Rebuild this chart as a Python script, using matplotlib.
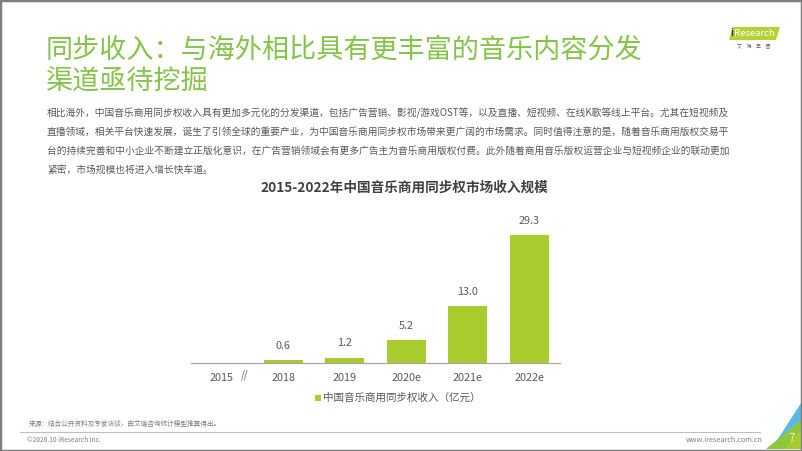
import matplotlib
matplotlib.use("Agg")
import matplotlib.pyplot as plt
from matplotlib.patches import Polygon, Rectangle
from matplotlib.lines import Line2D

plt.rcParams['font.family'] = ['Noto Sans CJK SC', 'DejaVu Sans']

categories = ["2015", "2018", "2019", "2020e", "2021e", "2022e"]
values = [0.0, 0.6, 1.2, 5.2, 13.0, 29.3]
value_labels = ["", "0.6", "1.2", "5.2", "13.0", "29.3"]
legend_label = "中国音乐商用同步权收入（亿元）"
chart_title = "2015-2022年中国音乐商用同步权市场收入规模"
slide_title = ["同步收入：与海外相比具有更丰富的音乐内容分发", "渠道亟待挖掘"]
body_lines = [
    "相比海外，中国音乐商用同步权收入具有更加多元化的分发渠道，包括广告营销、影视/游戏OST等，以及直播、短视频、在线K歌等线上平台。尤其在短视频及",
    "直播领域，相关平台快速发展，诞生了引领全球的重要产业，为中国音乐商用同步权市场带来更广阔的市场需求。同时值得注意的是，随着音乐商用版权交易平",
    "台的持续完善和中小企业不断建立正版化意识，在广告营销领域会有更多广告主为音乐商用版权付费。此外随着商用音乐版权运营企业与短视频企业的联动更加",
    "紧密，市场规模也将进入增长快车道。",
]
source_text = "来源：结合公开资料及专家访谈，由艾瑞咨询统计模型推算得出。"
copyright_text = "©2020.10 iResearch Inc."
site_text = "www.iresearch.com.cn"
page_no = "7"

W, H = 802, 451
fig = plt.figure(figsize=(W / 100, H / 100), dpi=100)
fig.patch.set_facecolor("white")

def fx(x):
    return x / W

def fy(y):
    return 1 - y / H

green_title = "#84c448"
bar_color = "#a8cc2e"
gray = "#595959"

# slide frame
fig.add_artist(Rectangle((0, 0), 1, 1, transform=fig.transFigure, fill=False,
                         edgecolor="#7f7f7f", linewidth=2.5, zorder=10))

# title
fig.text(fx(46), fy(50), slide_title[0], fontsize=19.5, color=green_title,
         va="center", ha="left", fontweight="light")
fig.text(fx(46), fy(82), slide_title[1], fontsize=19.5, color=green_title,
         va="center", ha="left", fontweight="light")

# logo
fig.add_artist(Polygon([[fx(729), fy(40)], [fx(776), fy(40)], [fx(780), fy(27)], [fx(733), fy(27)]],
                       closed=True, transform=fig.transFigure, facecolor="#b3d334", edgecolor="none"))
fig.text(fx(730), fy(33.5), "i", fontsize=7, color="#333333", va="center", ha="left",
         fontweight="bold")
fig.text(fx(734), fy(33.5), "Research", fontsize=6.8, color="white", va="center", ha="left")
fig.text(fx(754), fy(47), "艾    瑞    集    团", fontsize=3.6, color="#666666", va="center", ha="center")

# body
for i, line in enumerate(body_lines):
    fig.text(fx(47), fy(113 + 19 * i), line, fontsize=7.0, color=gray, va="center", ha="left")

# chart title
fig.text(fx(404), fy(188), chart_title, fontsize=9.8, color="#404040", va="center",
         ha="center", fontweight="bold")

# axes
ax = fig.add_axes([fx(191), fy(363), fx(560) - fx(191), (363 - 215) / H])
x = list(range(len(categories)))
bars = ax.bar(x, values, width=0.63, color=bar_color, zorder=2)
ax.set_xlim(-0.5, len(categories) - 0.5)
ax.set_ylim(0, 34)
for s in ["top", "right", "left"]:
    ax.spines[s].set_visible(False)
ax.spines["bottom"].set_color("#a6a6a6")
ax.spines["bottom"].set_linewidth(0.9)
ax.set_yticks([])
ax.set_xticks(x)
ax.set_xticklabels(categories, fontsize=7.8, color=gray)
ax.tick_params(axis="x", length=0, pad=7)
ax.patch.set_alpha(0)
for xi, v, lab in zip(x, values, value_labels):
    if lab:
        ax.annotate(lab, (xi, v), xytext=(0, 7), textcoords="offset points",
                    ha="center", va="bottom", fontsize=7.8, color=gray)
# break mark
ax.text(0.38, -0.08, "//", transform=ax.get_xaxis_transform(), ha="center", va="center",
        fontsize=7, color=gray, style="italic")

# legend
fig.add_artist(Rectangle((fx(315), fy(401)), fx(321) - fx(315), (6) / H,
                         transform=fig.transFigure, facecolor=bar_color, edgecolor="none"))
fig.text(fx(323), fy(398), legend_label, fontsize=7.6, color=gray, va="center", ha="left")

# footer
fig.text(fx(29), fy(424), source_text, fontsize=4.8, color="#7f7f7f", va="center", ha="left")
fig.add_artist(Line2D([fx(20), fx(760)], [fy(432), fy(432)], transform=fig.transFigure,
                      color="#bfbfbf", linewidth=0.8))
fig.text(fx(27), fy(440), copyright_text, fontsize=4.8, color="#7f7f7f", va="center", ha="left")
fig.text(fx(763), fy(440), site_text, fontsize=5.2, color="#7f7f7f", va="center", ha="right")

# corner decoration
fig.add_artist(Polygon([[fx(776), fy(442)], [fx(801), fy(403)], [fx(801), fy(424)]], closed=True,
                       transform=fig.transFigure, facecolor="#5bb8e6", edgecolor="none"))
fig.add_artist(Polygon([[fx(766), fy(449)], [fx(801), fy(449)], [fx(801), fy(420)]], closed=True,
                       transform=fig.transFigure, facecolor="#8dc63f", edgecolor="none"))
fig.add_artist(Polygon([[fx(784), fy(449)], [fx(801), fy(449)], [fx(801), fy(430)]], closed=True,
                       transform=fig.transFigure, facecolor="#a8cc2e", edgecolor="none"))
fig.text(fx(792), fy(438), page_no, fontsize=8.5, color="#f5f0a0", va="center", ha="center")

fig.savefig("out.png", dpi=100, facecolor="white")
